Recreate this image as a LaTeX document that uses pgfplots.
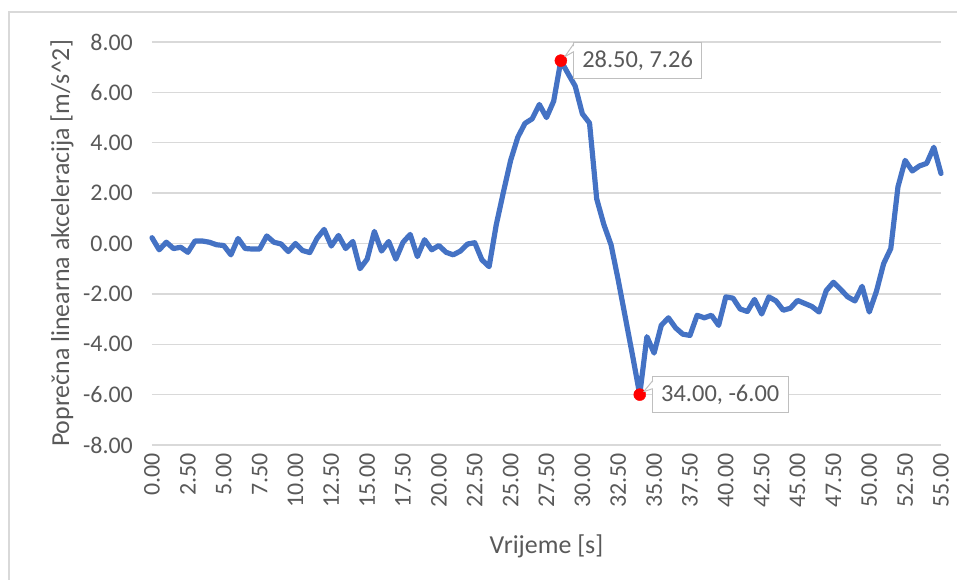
\documentclass[border=0pt]{standalone}
\usepackage{fontspec}
\setmainfont{Carlito}
\usepackage{pgfplots}
\pgfplotsset{compat=1.18}
\definecolor{lineblue}{HTML}{4472C4}
\definecolor{gridgray}{HTML}{D9D9D9}
\definecolor{txtgray}{HTML}{595959}
\definecolor{boxgray}{HTML}{BFBFBF}
\definecolor{ptred}{HTML}{FF0000}
\begin{document}
\begin{tikzpicture}
\useasboundingbox (-152bp,-135bp) rectangle (805bp,445bp);
\draw[gridgray, line width=1.2bp] (-143bp,-140bp) -- (-143bp,433bp) -- (810bp,433bp);
\begin{axis}[
  at={(0,0)}, anchor=south west,
  scale only axis, width=789bp, height=403bp,
  xmin=0, xmax=55, ymin=-8, ymax=8,
  xtick={0,2.5,5,7.5,10,12.5,15,17.5,20,22.5,25,27.5,30,32.5,35,37.5,40,42.5,45,47.5,50,52.5,55},
  ytick={-8,-6,-4,-2,0,2,4,6,8},
  ymajorgrids, grid style={gridgray, line width=1.3bp},
  axis line style={draw=none},
  major tick length=0pt,
  tick label style={font=\fontsize{24}{26}\selectfont, text=txtgray},
  /pgf/number format/.cd, fixed, fixed zerofill, precision=2, assume math mode=true, /pgfplots/.cd,
  xticklabel style={rotate=90, anchor=east, inner xsep=8bp, inner ysep=0pt},
  yticklabel style={anchor=east, inner xsep=19bp, inner ysep=0pt},
  xlabel={Vrijeme [s]},
  ylabel={Poprečna linearna akceleracija [m/s\^{}2]},
  label style={font=\fontsize{26}{29}\selectfont, text=txtgray},
  xlabel style={at={(axis description cs:0.5,-0.252)}, anchor=center},
  ylabel style={at={(axis description cs:-0.114,0.5)}, anchor=center},
  clip=false,
]
\addplot[lineblue, line width=5.2bp, line join=round, line cap=round] table {
t v
0 0.23
0.5 -0.25
1 0.05
1.5 -0.2
2 -0.15
2.5 -0.35
3 0.1
3.5 0.1
4 0.05
4.5 -0.05
5 -0.08
5.5 -0.45
6 0.2
6.5 -0.2
7 -0.22
7.5 -0.22
8 0.3
8.5 0.05
9 -0.02
9.5 -0.32
10 0.0
10.5 -0.28
11 -0.36
11.5 0.2
12 0.56
12.5 -0.1
13 0.32
13.5 -0.2
14 0.08
14.5 -1.0
15 -0.62
15.5 0.48
16 -0.3
16.5 0.08
17 -0.62
17.5 0.05
18 0.36
18.5 -0.52
19 0.15
19.5 -0.25
20 -0.08
20.5 -0.35
21 -0.45
21.5 -0.3
22 -0.02
22.5 0.03
23 -0.65
23.5 -0.92
24 0.75
24.5 2.05
25 3.3
25.5 4.22
26 4.77
26.5 4.95
27 5.52
27.5 5.0
28 5.65
28.5 7.26
29 6.75
29.5 6.25
30 5.15
30.5 4.78
31 1.77
31.5 0.75
32 -0.05
32.5 -1.45
33 -2.95
33.5 -4.45
34 -6.0
34.5 -3.7
35 -4.35
35.5 -3.25
36 -2.95
36.5 -3.35
37 -3.6
37.5 -3.65
38 -2.85
38.5 -2.95
39 -2.85
39.5 -3.25
40 -2.12
40.5 -2.17
41 -2.6
41.5 -2.7
42 -2.22
42.5 -2.8
43 -2.12
43.5 -2.28
44 -2.65
44.5 -2.57
45 -2.26
45.5 -2.38
46 -2.5
46.5 -2.72
47 -1.87
47.5 -1.54
48 -1.82
48.5 -2.12
49 -2.28
49.5 -1.7
50 -2.72
50.5 -1.9
51 -0.8
51.5 -0.2
52 2.25
52.5 3.3
53 2.88
53.5 3.08
54 3.18
54.5 3.82
55 2.78
};
\addplot[only marks, mark=*, mark size=6bp, mark options={draw=ptred, fill=ptred}] table {
t v
28.5 7.26
34 -6.0
};
\coordinate (p1) at (axis cs:28.5,7.26);
\coordinate (p2) at (axis cs:34,-6);
\end{axis}
% callouts
\node[draw=boxgray, fill=white, line width=1bp, text=txtgray, font=\fontsize{24.5}{26}\selectfont, anchor=west, minimum height=36bp, inner xsep=9bp] at ([xshift=12bp]p1) {28.50, 7.26};
\fill[white] ([shift={(4bp,4bp)}]p1) -- ([shift={(14bp,16bp)}]p1) -- ([shift={(14bp,9.5bp)}]p1) -- cycle;
\draw[boxgray, line width=1bp] ([shift={(4bp,4bp)}]p1) -- ([shift={(13bp,17bp)}]p1);
\draw[boxgray, line width=1bp] ([shift={(4bp,4bp)}]p1) -- ([shift={(13bp,9bp)}]p1);
%
\node[draw=boxgray, fill=white, line width=1bp, text=txtgray, font=\fontsize{24.5}{26}\selectfont, anchor=west, minimum height=36bp, inner xsep=9bp] at ([xshift=12bp]p2) {34.00, -6.00};
\fill[white] ([shift={(4bp,3bp)}]p2) -- ([shift={(14bp,14bp)}]p2) -- ([shift={(14bp,6bp)}]p2) -- cycle;
\draw[boxgray, line width=1bp] ([shift={(4bp,3bp)}]p2) -- ([shift={(13bp,14bp)}]p2);
\draw[boxgray, line width=1bp] ([shift={(4bp,3bp)}]p2) -- ([shift={(13bp,6bp)}]p2);
\end{tikzpicture}
\end{document}
